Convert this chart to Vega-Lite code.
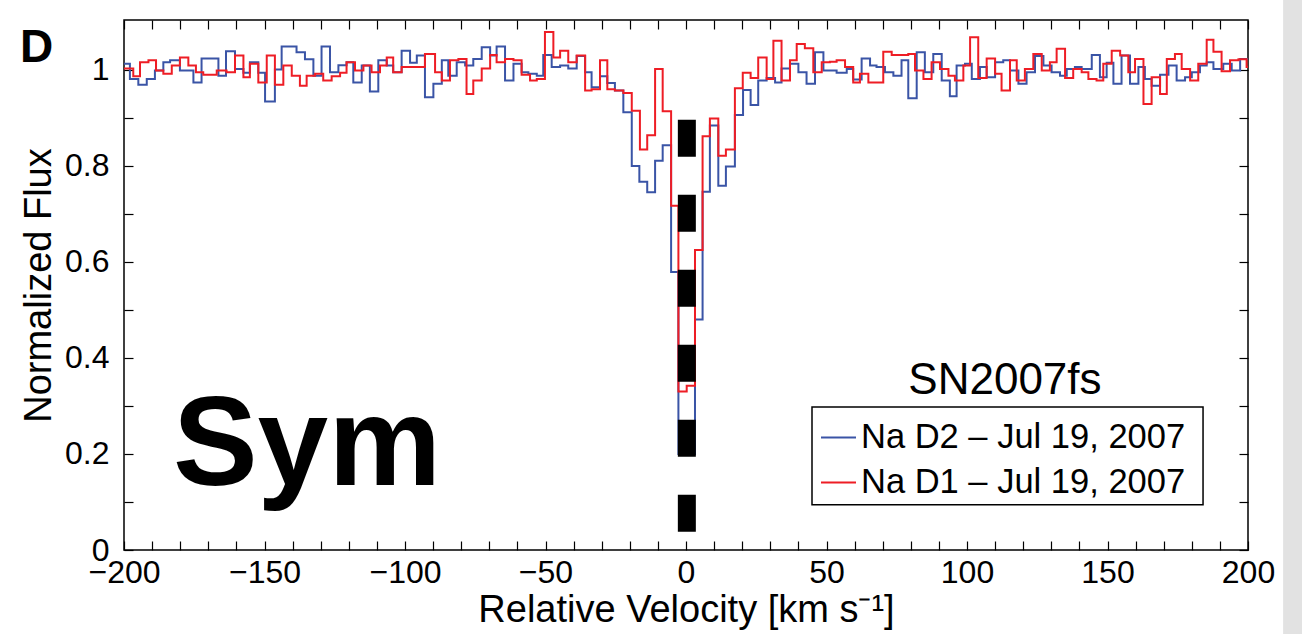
{
  "$schema": "https://vega.github.io/schema/vega-lite/v6.json",
  "width": 1124,
  "height": 530,
  "autosize": {"type": "none"},
  "padding": {"left": 124, "top": 20, "right": 54, "bottom": 84},
  "background": "white",
  "config": {
    "view": {"stroke": "black", "strokeWidth": 1.5},
    "font": "Liberation Sans",
    "axis": {"domain": false, "grid": false, "tickColor": "black", "tickWidth": 1.2, "labelColor": "black", "titleColor": "black", "labelFont": "Liberation Sans", "titleFont": "Liberation Sans", "titleFontWeight": "normal"}
  },
  "datasets": {
    "naD2": [
      {"v": -202, "f": 1.013}, {"v": -197.9, "f": 0.981}, {"v": -194.9, "f": 0.969}, {"v": -191.9, "f": 0.981}, {"v": -189.0, "f": 0.999},
      {"v": -186.0, "f": 1.016}, {"v": -183.6, "f": 1.020}, {"v": -180.1, "f": 0.999}, {"v": -175.3, "f": 0.974}, {"v": -172.4, "f": 1.024},
      {"v": -166.4, "f": 0.988}, {"v": -163.7, "f": 1.039}, {"v": -160.5, "f": 1.002}, {"v": -157.5, "f": 0.994}, {"v": -155.2, "f": 1.016},
      {"v": -152.2, "f": 0.994}, {"v": -149.8, "f": 0.934}, {"v": -146.3, "f": 1.001}, {"v": -143.9, "f": 1.049}, {"v": -138.6, "f": 1.037},
      {"v": -135.6, "f": 1.022}, {"v": -132.6, "f": 0.988}, {"v": -129.7, "f": 1.049}, {"v": -126.7, "f": 0.995}, {"v": -123.7, "f": 1.010},
      {"v": -120.8, "f": 1.016}, {"v": -118.4, "f": 0.974}, {"v": -115.4, "f": 1.009}, {"v": -112.5, "f": 0.955}, {"v": -109.5, "f": 1.020},
      {"v": -106.5, "f": 1.009}, {"v": -104.2, "f": 0.995}, {"v": -101.2, "f": 1.040}, {"v": -98.2, "f": 1.015}, {"v": -95.8, "f": 1.030},
      {"v": -92.9, "f": 0.943}, {"v": -89.9, "f": 0.971}, {"v": -86.9, "f": 1.020}, {"v": -84.6, "f": 0.988}, {"v": -81.6, "f": 1.016},
      {"v": -78.6, "f": 1.009}, {"v": -75.7, "f": 1.023}, {"v": -72.7, "f": 1.047}, {"v": -69.7, "f": 1.030}, {"v": -67.4, "f": 1.049},
      {"v": -64.4, "f": 0.978}, {"v": -61.4, "f": 1.013}, {"v": -58.5, "f": 0.995}, {"v": -56.1, "f": 0.992}, {"v": -53.1, "f": 0.988},
      {"v": -50.8, "f": 1.031}, {"v": -47.8, "f": 1.006}, {"v": -44.8, "f": 1.009}, {"v": -41.9, "f": 1.003}, {"v": -38.9, "f": 1.029},
      {"v": -35.9, "f": 0.995}, {"v": -33.6, "f": 0.964}, {"v": -30.6, "f": 0.987}, {"v": -28.0, "f": 0.973}, {"v": -25.3, "f": 0.957},
      {"v": -22.3, "f": 0.912}, {"v": -19.3, "f": 0.800}, {"v": -16.6, "f": 0.767}, {"v": -13.8, "f": 0.745}, {"v": -11.0, "f": 0.811},
      {"v": -8.3, "f": 0.843}, {"v": -5.3, "f": 0.579}, {"v": -2.7, "f": 0.20}, {"v": 3.2, "f": 0.48}, {"v": 5.9, "f": 0.746},
      {"v": 8.5, "f": 0.884}, {"v": 11.5, "f": 0.759}, {"v": 14.2, "f": 0.799}, {"v": 17.4, "f": 0.906}, {"v": 20.3, "f": 0.958},
      {"v": 23.0, "f": 0.927}, {"v": 25.7, "f": 0.978}, {"v": 28.7, "f": 0.983}, {"v": 31.7, "f": 0.974}, {"v": 34.0, "f": 1.003},
      {"v": 37.0, "f": 1.013}, {"v": 40.0, "f": 0.995}, {"v": 42.9, "f": 0.971}, {"v": 45.9, "f": 1.037}, {"v": 48.9, "f": 0.999},
      {"v": 53.6, "f": 0.994}, {"v": 57.2, "f": 1.002}, {"v": 59.5, "f": 0.980}, {"v": 62.5, "f": 1.024}, {"v": 65.5, "f": 1.009},
      {"v": 67.8, "f": 1.006}, {"v": 70.8, "f": 0.995}, {"v": 73.8, "f": 0.988}, {"v": 76.7, "f": 1.020}, {"v": 79.1, "f": 0.941},
      {"v": 82.1, "f": 1.037}, {"v": 85.0, "f": 0.995}, {"v": 88.0, "f": 1.033}, {"v": 91.0, "f": 0.978}, {"v": 93.9, "f": 0.945},
      {"v": 96.3, "f": 1.009}, {"v": 99.3, "f": 1.013}, {"v": 101.7, "f": 0.981}, {"v": 104.6, "f": 1.006}, {"v": 107.0, "f": 0.985},
      {"v": 110.0, "f": 1.016}, {"v": 112.9, "f": 1.020}, {"v": 115.3, "f": 0.999}, {"v": 118.3, "f": 0.971}, {"v": 121.2, "f": 0.995},
      {"v": 124.2, "f": 1.029}, {"v": 127.2, "f": 1.009}, {"v": 130.1, "f": 0.995}, {"v": 133.1, "f": 0.988}, {"v": 135.5, "f": 1.002},
      {"v": 138.4, "f": 1.006}, {"v": 140.8, "f": 1.002}, {"v": 144.4, "f": 1.031}, {"v": 147.3, "f": 0.985}, {"v": 149.7, "f": 1.015},
      {"v": 152.1, "f": 0.971}, {"v": 155.0, "f": 1.030}, {"v": 158.0, "f": 0.971}, {"v": 161.0, "f": 1.006}, {"v": 163.3, "f": 0.981},
      {"v": 165.7, "f": 0.967}, {"v": 168.7, "f": 0.990}, {"v": 171.7, "f": 1.009}, {"v": 174.6, "f": 0.978}, {"v": 177.6, "f": 0.985},
      {"v": 180.0, "f": 0.995}, {"v": 182.9, "f": 1.009}, {"v": 185.3, "f": 1.016}, {"v": 187.7, "f": 1.002}, {"v": 191.2, "f": 1.013},
      {"v": 194.2, "f": 0.999}, {"v": 197.2, "f": 1.023}, {"v": 202, "f": 1.023}
    ],
    "naD1": [
      {"v": -202, "f": 1.003}, {"v": -196.7, "f": 0.987}, {"v": -194.3, "f": 1.016}, {"v": -191.3, "f": 1.020}, {"v": -188.6, "f": 0.999},
      {"v": -186.0, "f": 0.992}, {"v": -183.0, "f": 1.009}, {"v": -180.1, "f": 1.026}, {"v": -177.1, "f": 1.009}, {"v": -174.4, "f": 0.995},
      {"v": -171.8, "f": 0.990}, {"v": -167.0, "f": 0.999}, {"v": -163.5, "f": 0.995}, {"v": -160.5, "f": 1.030}, {"v": -157.5, "f": 0.985},
      {"v": -155.2, "f": 1.013}, {"v": -152.2, "f": 0.974}, {"v": -149.2, "f": 1.030}, {"v": -146.3, "f": 0.969}, {"v": -143.3, "f": 1.009},
      {"v": -140.3, "f": 0.988}, {"v": -137.4, "f": 0.967}, {"v": -135.0, "f": 0.988}, {"v": -132.0, "f": 0.992}, {"v": -129.1, "f": 0.978},
      {"v": -126.1, "f": 0.987}, {"v": -123.1, "f": 0.994}, {"v": -120.8, "f": 1.016}, {"v": -117.8, "f": 0.999}, {"v": -114.8, "f": 1.009},
      {"v": -111.9, "f": 0.995}, {"v": -108.9, "f": 1.009}, {"v": -106.5, "f": 1.026}, {"v": -104.2, "f": 0.995}, {"v": -101.2, "f": 1.006},
      {"v": -92.9, "f": 1.033}, {"v": -89.3, "f": 0.995}, {"v": -86.9, "f": 0.978}, {"v": -84.0, "f": 1.020}, {"v": -81.0, "f": 1.023},
      {"v": -78.1, "f": 0.950}, {"v": -75.7, "f": 0.978}, {"v": -72.7, "f": 1.003}, {"v": -69.7, "f": 1.031}, {"v": -67.4, "f": 1.016},
      {"v": -64.4, "f": 1.023}, {"v": -61.4, "f": 1.020}, {"v": -58.5, "f": 0.990}, {"v": -55.5, "f": 0.978}, {"v": -53.1, "f": 0.981},
      {"v": -50.2, "f": 1.079}, {"v": -47.2, "f": 1.026}, {"v": -44.8, "f": 1.040}, {"v": -41.9, "f": 1.016}, {"v": -38.9, "f": 1.030},
      {"v": -35.9, "f": 0.957}, {"v": -33.6, "f": 0.960}, {"v": -30.6, "f": 1.020}, {"v": -28.0, "f": 0.960}, {"v": -25.3, "f": 0.957},
      {"v": -22.3, "f": 0.952}, {"v": -19.3, "f": 0.915}, {"v": -16.4, "f": 0.834}, {"v": -13.8, "f": 0.864}, {"v": -11.0, "f": 1.002},
      {"v": -8.3, "f": 0.914}, {"v": -5.3, "f": 0.717}, {"v": -2.7, "f": 0.330}, {"v": 0.25, "f": 0.342}, {"v": 3.2, "f": 0.625},
      {"v": 5.9, "f": 0.862}, {"v": 8.5, "f": 0.899}, {"v": 11.5, "f": 0.821}, {"v": 14.2, "f": 0.834}, {"v": 17.4, "f": 0.962},
      {"v": 20.2, "f": 0.994}, {"v": 23.0, "f": 0.983}, {"v": 25.7, "f": 1.026}, {"v": 28.7, "f": 0.981}, {"v": 31.1, "f": 1.061},
      {"v": 34.0, "f": 0.978}, {"v": 37.0, "f": 1.020}, {"v": 39.4, "f": 1.054}, {"v": 42.3, "f": 1.045}, {"v": 45.3, "f": 0.995},
      {"v": 48.3, "f": 1.016}, {"v": 51.2, "f": 1.017}, {"v": 53.6, "f": 1.020}, {"v": 56.6, "f": 1.006}, {"v": 59.5, "f": 0.974},
      {"v": 61.9, "f": 0.992}, {"v": 64.9, "f": 0.974}, {"v": 70.2, "f": 1.038}, {"v": 73.2, "f": 1.031}, {"v": 79.1, "f": 1.033},
      {"v": 81.5, "f": 0.999}, {"v": 84.5, "f": 0.981}, {"v": 87.4, "f": 1.016}, {"v": 90.4, "f": 1.002}, {"v": 93.4, "f": 0.988},
      {"v": 95.7, "f": 0.978}, {"v": 98.7, "f": 1.009}, {"v": 101.1, "f": 1.068}, {"v": 104.0, "f": 0.983}, {"v": 107.0, "f": 1.024},
      {"v": 110.0, "f": 0.992}, {"v": 112.3, "f": 0.957}, {"v": 115.3, "f": 1.020}, {"v": 117.7, "f": 0.978}, {"v": 120.6, "f": 1.002},
      {"v": 123.6, "f": 1.033}, {"v": 126.6, "f": 0.999}, {"v": 129.5, "f": 1.016}, {"v": 131.9, "f": 1.044}, {"v": 134.9, "f": 0.983},
      {"v": 137.8, "f": 1.002}, {"v": 140.8, "f": 0.995}, {"v": 143.2, "f": 0.981}, {"v": 146.1, "f": 0.978}, {"v": 148.5, "f": 1.013},
      {"v": 151.5, "f": 1.040}, {"v": 154.5, "f": 1.030}, {"v": 157.4, "f": 0.995}, {"v": 159.8, "f": 1.023}, {"v": 162.8, "f": 0.929},
      {"v": 165.7, "f": 0.985}, {"v": 168.7, "f": 0.950}, {"v": 171.1, "f": 1.023}, {"v": 174.0, "f": 1.033}, {"v": 176.4, "f": 1.002},
      {"v": 179.4, "f": 0.978}, {"v": 182.3, "f": 1.013}, {"v": 185.3, "f": 1.063}, {"v": 187.7, "f": 1.038}, {"v": 190.6, "f": 0.997},
      {"v": 193.6, "f": 1.020}, {"v": 196.6, "f": 1.022}, {"v": 199.5, "f": 1.006}, {"v": 202, "f": 1.006}
    ],
    "marker": [{"v": 0.3, "top": 0.896, "bottom": 0.035}],
    "labels": [
      {"v": 113.5, "f": 0.352, "t": "SN2007fs"}
    ],
    "big": [{"v": -182.6, "f": 0.135, "t": "Sym"}],
    "panel": [{"v": -237, "f": 1.017, "t": "D"}],
    "box": [{"x1": 44.84, "x2": 184.0, "y1": 0.298, "y2": 0.094}],
    "strip": [{"x1": 212.5, "x2": 225, "y1": 1.25, "y2": -0.25}]
  },
  "resolve": {"axis": {"x": "independent", "y": "independent"}},
  "layer": [
    {
      "data": {"name": "box"},
      "mark": {"type": "rect", "fill": "white", "stroke": "black", "strokeWidth": 1.5},
      "encoding": {
        "x": {"field": "x1", "type": "quantitative", "scale": {"domain": [-200, 200], "nice": false, "zero": false}, "axis": null},
        "x2": {"field": "x2"},
        "y": {"field": "y1", "type": "quantitative", "scale": {"domain": [0, 1.104], "nice": false}, "axis": null},
        "y2": {"field": "y2"}
      }
    },
    {
      "data": {"name": "naD2"},
      "mark": {"type": "line", "interpolate": "step-after", "strokeWidth": 2, "clip": true},
      "encoding": {
        "x": {"field": "v", "type": "quantitative",
          "axis": {"orient": "bottom", "values": [-200,-190,-180,-170,-160,-150,-140,-130,-120,-110,-100,-90,-80,-70,-60,-50,-40,-30,-20,-10,0,10,20,30,40,50,60,70,80,90,100,110,120,130,140,150,160,170,180,190,200],
            "labelExpr": "datum.value % 50 == 0 ? datum.label : ''", "tickSize": -9, "labelPadding": 16, "labelFontSize": 32, "labelFlush": false, "labelOverlap": false,
            "title": "Relative Velocity [km s⁻¹]", "titleFontSize": 38, "titlePadding": 3}},
        "y": {"field": "f", "type": "quantitative",
          "axis": {"orient": "left", "values": [0,0.1,0.2,0.3,0.4,0.5,0.6,0.7,0.8,0.9,1],
            "labelExpr": "round(datum.value*10) % 2 == 0 ? datum.label : ''", "format": ".1~f", "tickSize": -9, "labelPadding": 24, "labelFontSize": 32, "labelOverlap": false, "labelFlush": false,
            "title": "Normalized Flux", "titleFontSize": 38, "titlePadding": 6}},
        "color": {"datum": "Na D2 – Jul 19, 2007", "type": "nominal",
          "scale": {"domain": ["Na D2 – Jul 19, 2007", "Na D1 – Jul 19, 2007"], "range": ["#3a54a6", "#ee1d25"]},
          "legend": {"orient": "none", "legendX": 688, "legendY": 391, "title": null, "symbolType": "stroke", "symbolSize": 1225, "symbolStrokeWidth": 2,
            "labelFontSize": 34.5, "labelFont": "Liberation Sans", "labelColor": "black", "labelLimit": 600, "labelOffset": 4,
            "padding": 8, "rowPadding": 10}}
      }
    },
    {
      "data": {"name": "naD1"},
      "mark": {"type": "line", "interpolate": "step-after", "strokeWidth": 2, "clip": true},
      "encoding": {
        "x": {"field": "v", "type": "quantitative", "axis": null},
        "y": {"field": "f", "type": "quantitative", "axis": null},
        "color": {"datum": "Na D1 – Jul 19, 2007", "type": "nominal"}
      }
    },
    {
      "data": {"name": "marker"},
      "mark": {"type": "rule", "color": "black", "strokeWidth": 18, "strokeDash": [37, 38], "strokeCap": "butt"},
      "encoding": {
        "x": {"field": "v", "type": "quantitative",
          "axis": {"orient": "top", "values": [-200,-190,-180,-170,-160,-150,-140,-130,-120,-110,-100,-90,-80,-70,-60,-50,-40,-30,-20,-10,0,10,20,30,40,50,60,70,80,90,100,110,120,130,140,150,160,170,180,190,200], "labels": false, "tickSize": -9, "title": null}},
        "y": {"field": "top", "type": "quantitative",
          "axis": {"orient": "right", "values": [0,0.1,0.2,0.3,0.4,0.5,0.6,0.7,0.8,0.9,1], "labels": false, "tickSize": -9, "title": null}},
        "y2": {"field": "bottom"}
      }
    },
    {
      "data": {"name": "labels"},
      "mark": {"type": "text", "fontSize": 44, "font": "Liberation Sans", "align": "center", "baseline": "middle", "color": "black"},
      "encoding": {
        "x": {"field": "v", "type": "quantitative", "axis": null},
        "y": {"field": "f", "type": "quantitative", "axis": null},
        "text": {"field": "t"}
      }
    },
    {
      "data": {"name": "big"},
      "mark": {"type": "text", "fontSize": 127, "fontWeight": "bold", "font": "Liberation Sans", "align": "left", "baseline": "alphabetic", "color": "black"},
      "encoding": {
        "x": {"field": "v", "type": "quantitative", "axis": null},
        "y": {"field": "f", "type": "quantitative", "axis": null},
        "text": {"field": "t"}
      }
    },
    {
      "data": {"name": "panel"},
      "mark": {"type": "text", "fontSize": 46, "fontWeight": "bold", "font": "Liberation Sans", "align": "left", "baseline": "alphabetic", "color": "black"},
      "encoding": {
        "x": {"field": "v", "type": "quantitative", "axis": null},
        "y": {"field": "f", "type": "quantitative", "axis": null},
        "text": {"field": "t"}
      }
    },
    {
      "data": {"name": "strip"},
      "mark": {"type": "rect", "color": "#e2e2e2", "clip": false},
      "encoding": {
        "x": {"field": "x1", "type": "quantitative", "axis": null},
        "x2": {"field": "x2"},
        "y": {"field": "y1", "type": "quantitative", "axis": null},
        "y2": {"field": "y2"}
      }
    }
  ]
}
